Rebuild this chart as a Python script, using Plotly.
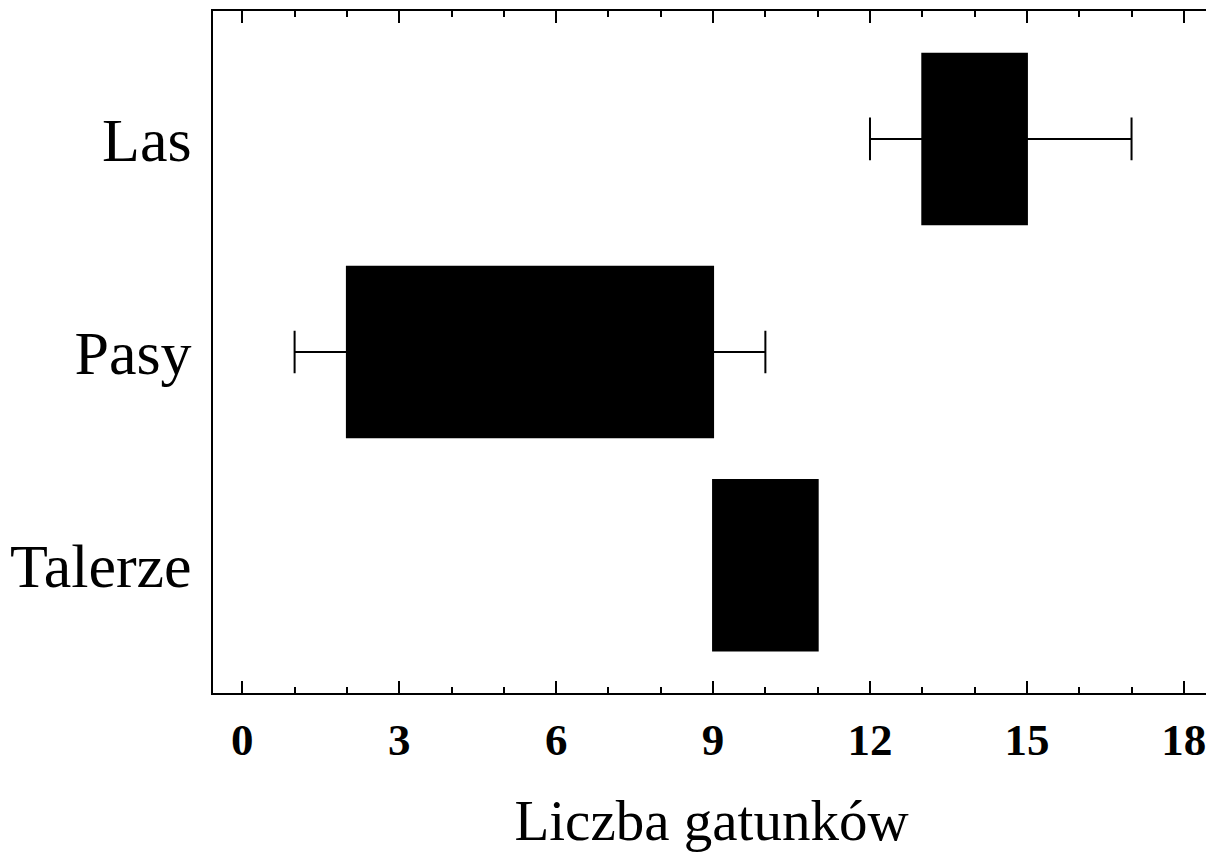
import plotly.graph_objects as go

categories = ["Las", "Pasy", "Talerze"]
lower_whisker = [12, 1, 9]
q1_values = [13, 2, 9]
median_values = [14, 5, 10]
q3_values = [15, 9, 11]
upper_whisker = [17, 10, 11]
x_tick_values = [0, 3, 6, 9, 12, 15, 18]
x_title = "Liczba gatunków"

fig = go.Figure()
fig.add_trace(go.Box(
    y=categories,
    q1=q1_values,
    median=median_values,
    q3=q3_values,
    lowerfence=lower_whisker,
    upperfence=upper_whisker,
    orientation="h",
    fillcolor="black",
    line=dict(color="black", width=2),
    whiskerwidth=0.25,
    width=0.8,
    hoverinfo="skip",
    showlegend=False,
))

# page has an 8px body margin, so the figure is sized to fit the window
fig.update_layout(
    width=1206, height=846,
    margin=dict(l=205, r=4, t=3, b=161),
    paper_bgcolor="white", plot_bgcolor="white",
    boxgap=0.2, boxgroupgap=0,
    font=dict(family="Liberation Serif", color="black"),
)
fig.update_xaxes(
    range=[-0.56, 18.5],
    tickvals=x_tick_values,
    ticktext=[str(v) for v in x_tick_values],
    ticks="inside", ticklen=12, tickwidth=2, tickcolor="black",
    minor=dict(dtick=1, ticks="inside", ticklen=6, tickwidth=2, tickcolor="black", showgrid=False),
    showgrid=False, zeroline=False,
    showline=True, linecolor="black", linewidth=2, mirror="ticks",
    tickfont=dict(family="Liberation Serif", size=45, color="black", weight="bold"),
    ticklabelstandoff=6,
    title=dict(text=x_title, font=dict(family="Liberation Serif", size=57, color="black"), standoff=36),
    automargin=False,
)
fig.update_yaxes(
    type="category",
    categoryorder="array", categoryarray=categories,
    range=[2.6, -0.6],
    ticks="", showgrid=False, zeroline=False,
    showline=True, linecolor="black", linewidth=2, mirror=True,
    tickfont=dict(family="Liberation Serif", size=62, color="black"),
    ticklabelstandoff=7,
    automargin=False,
)

fig.write_html("out.html")
